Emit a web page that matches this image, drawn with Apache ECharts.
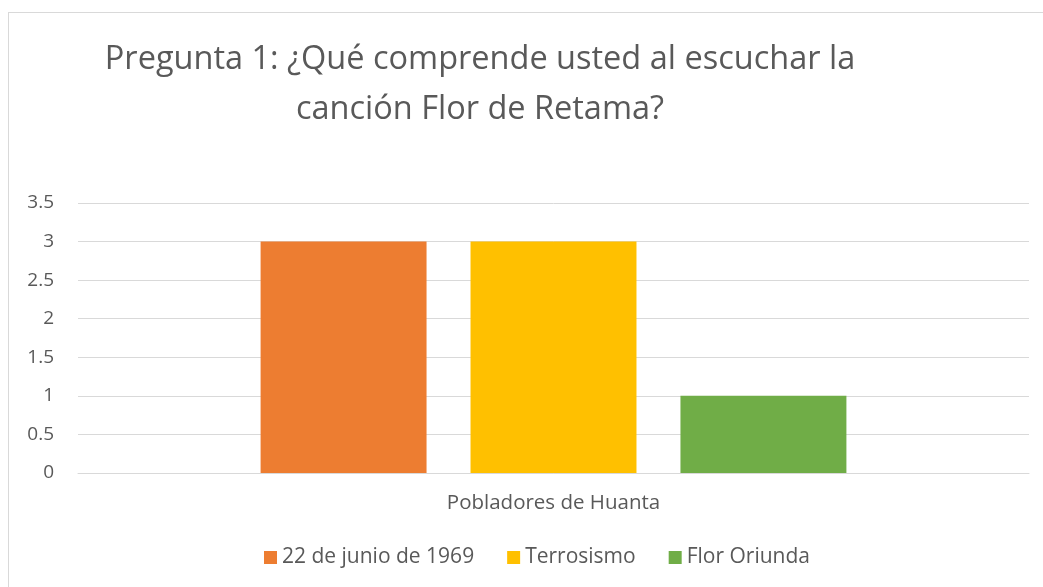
<!DOCTYPE html>
<html>
<head>
<meta charset="utf-8">
<script src="https://cdn.jsdelivr.net/npm/echarts@6/dist/echarts.min.js"></script>
<style>
  html, body { margin: 0; padding: 0; background: #fff; }
  #chart { width: 1043px; height: 587px; }
  #frame { position: absolute; left: 8px; top: 12px; width: 1100px; height: 700px;
           border: 1px solid #d9d9d9; box-sizing: border-box; pointer-events: none; }
</style>
</head>
<body>
<div id="chart"></div>
<div id="frame"></div>
<script>
"use strict";

// Chart data
const categories = ["Pobladores de Huanta"];
const seriesNames = ["22 de junio de 1969", "Terrosismo", "Flor Oriunda"];
const seriesValues = [[3], [3], [1]];
const seriesColors = ["#ed7d31", "#ffc000", "#70ad47"];

const FONT = "'Open Sans', 'Noto Sans', sans-serif";
const TEXT = "#595959";

const chart = echarts.init(document.getElementById("chart"), null, { renderer: "canvas" });

chart.setOption({
  animation: false,
  title: {
    text: "Pregunta 1: ¿Qué comprende usted al escuchar la\ncanción Flor de Retama?",
    left: 475,
    top: 30,
    textAlign: "center",
    textStyle: {
      fontFamily: FONT,
      fontSize: 32.5,
      fontWeight: "normal",
      color: TEXT,
      lineHeight: 50,
      align: "center",
    },
  },
  legend: {
    top: 542,
    left: 259,
    width: 760,
    itemWidth: 13,
    itemHeight: 13,
    itemGap: 33,
    icon: "rect",
    textStyle: { fontFamily: FONT, fontSize: 21, color: TEXT },
    data: seriesNames,
  },
  grid: { left: 78, right: 14, top: 203, bottom: 114 },
  xAxis: {
    type: "category",
    data: categories,
    axisLine: { lineStyle: { color: "#d9d9d9" } },
    axisTick: { show: false },
    axisLabel: { fontFamily: FONT, fontSize: 20.5, color: TEXT, margin: 20 },
  },
  yAxis: {
    type: "value",
    min: 0,
    max: 3.5,
    interval: 0.5,
    axisLine: { show: false },
    axisTick: { show: false },
    axisLabel: { fontFamily: FONT, fontSize: 19, color: TEXT, margin: 24 },
    splitLine: { lineStyle: { color: "#d9d9d9", width: 1 } },
  },
  series: seriesNames.map((name, i) => ({
    name,
    type: "bar",
    data: seriesValues[i],
    itemStyle: { color: seriesColors[i] },
    barGap: "26.5%",
    barCategoryGap: "38.4%",
  })),
});
</script>
</body>
</html>
